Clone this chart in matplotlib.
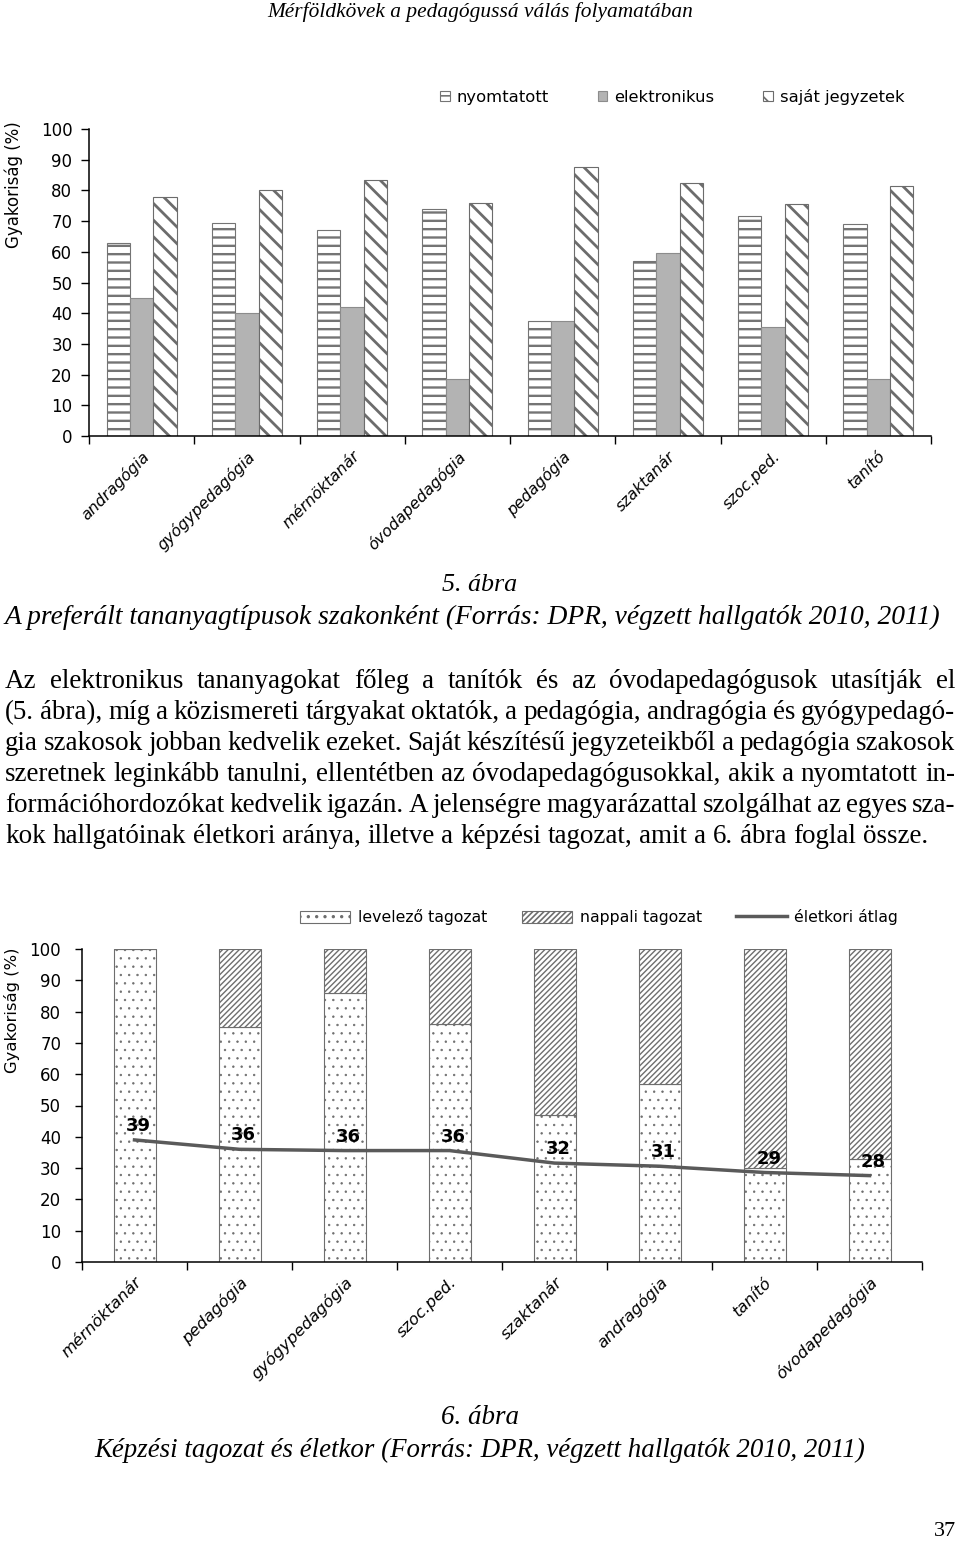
import matplotlib
matplotlib.use('Agg')
import matplotlib.pyplot as plt
import numpy as np

# data, figure 5
szakok1 = ['andragógia', 'gyógypedagógia', 'mérnöktanár', 'óvodapedagógia',
           'pedagógia', 'szaktanár', 'szoc.ped.', 'tanító']
nyomtatott = [63, 69.5, 67, 74, 37.5, 57, 71.5, 69]
elektronikus = [45, 40, 42, 18.5, 37.5, 59.5, 35.5, 18.5]
sajat = [78, 80, 83.5, 76, 87.5, 82.5, 75.5, 81.5]

# data, figure 6
szakok2 = ['mérnöktanár', 'pedagógia', 'gyógypedagógia', 'szoc.ped.',
           'szaktanár', 'andragógia', 'tanító', 'óvodapedagógia']
levelezo = [100, 75, 86, 76, 47, 57, 30, 33]
nappali = [100 - v for v in levelezo]
eletkor = [39, 36, 35.6, 35.6, 31.6, 30.6, 28.6, 27.6]

bekezdes = [
    'Az elektronikus tananyagokat főleg a tanítók és az óvodapedagógusok utasítják el',
    '(5. ábra), míg a közismereti tárgyakat oktatók, a pedagógia, andragógia és gyógypedagó-',
    'gia szakosok jobban kedvelik ezeket. Saját készítésű jegyzeteikből a pedagógia szakosok',
    'szeretnek leginkább tanulni, ellentétben az óvodapedagógusokkal, akik a nyomtatott in-',
    'formációhordozókat kedvelik igazán. A jelenségre magyarázattal szolgálhat az egyes sza-',
    'kok hallgatóinak életkori aránya, illetve a képzési tagozat, amit a 6. ábra foglal össze.',
]

W, H = 960, 1548
plt.rcParams['hatch.linewidth'] = 1.2
fig = plt.figure(figsize=(W / 100, H / 100), dpi=100)
fig.patch.set_facecolor('white')
r = fig.canvas.get_renderer()
serif = 'Liberation Serif'


def fx(px):
    return px / W


def fy(py):
    return 1 - py / H


def fit_text(x, y, s, width, **kw):
    # pick a font size so the text is `width` pixels wide
    t = fig.text(fx(x), fy(y), s, fontsize=20, **kw)
    w = t.get_window_extent(r).width
    t.set_fontsize(20 * width / w)
    return t


def hatch_lw(bars, lw):
    for p in bars:
        if hasattr(p, 'set_hatch_linewidth'):
            p.set_hatch_linewidth(lw)


def style_axis(ax, cats, lsize):
    ax.set_xlim(-0.5, len(cats) - 0.5)
    ax.set_ylim(0, 100)
    ax.set_yticks(range(0, 101, 10))
    ax.set_xticks(np.arange(-0.5, len(cats), 1))
    ax.set_xticklabels([])
    ax.set_xticks(np.arange(len(cats)), minor=True)
    ax.set_xticklabels(cats, minor=True, rotation=45, ha='right', va='top',
                       rotation_mode='anchor', style='italic', fontsize=lsize)
    ax.tick_params(axis='x', which='major', length=6, width=1)
    ax.tick_params(axis='x', which='minor', length=0, pad=9)
    ax.tick_params(axis='y', labelsize=12, width=1)
    for s in ('top', 'right'):
        ax.spines[s].set_visible(False)
    for s in ('left', 'bottom'):
        ax.spines[s].set_linewidth(1.1)


fit_text(480, 12, 'Mérföldkövek a pedagógussá válás folyamatában', 424,
         ha='center', va='center', family=serif, style='italic')

# ---- figure 5 ----
ax1 = fig.add_axes([fx(89), fy(436), (931 - 89) / W, (436 - 129) / H])
x = np.arange(len(szakok1))
bw = 0.222
b1 = ax1.bar(x - bw, nyomtatott, bw, color='white', edgecolor='#747474',
             hatch='--', lw=0.8, label='nyomtatott')
b2 = ax1.bar(x, elektronikus, bw, color='#b3b3b3', edgecolor='#8c8c8c',
             lw=0.8, label='elektronikus')
b3 = ax1.bar(x + bw, sajat, bw, color='white', edgecolor='#6c6c6c',
             hatch='\\\\', lw=0.8, label='saját jegyzetek')
hatch_lw(b1, 1.7)
hatch_lw(b3, 2.0)
style_axis(ax1, szakok1, 11.3)
ax1.tick_params(axis='y', length=6, pad=6)
fig.legend(handles=[b1, b2, b3], loc='center', ncol=3, frameon=False,
           bbox_to_anchor=(fx(672), fy(97)), fontsize=11.8, handlelength=0.6,
           handleheight=0.6, handletextpad=0.4, columnspacing=3.0)
fig.text(fx(14), fy(185), 'Gyakoriság (%)', rotation=90, ha='center',
         va='center', fontsize=12)

fit_text(480, 585, '5. ábra', 75, ha='center', va='center', family=serif,
         style='italic')
fit_text(472, 617, 'A preferált tananyagtípusok szakonként (Forrás: DPR, '
         'végzett hallgatók 2010, 2011)', 935, ha='center', va='center',
         family=serif, style='italic')

# ---- justified paragraph ----
x0, x1 = 5, 955
size = 30.0
for i, line in enumerate(bekezdes):
    probe = fig.text(0, 0, line, fontsize=17.0, family=serif)
    target = 942 if i == len(bekezdes) - 1 else 968
    size = min(size, 17.0 * target / probe.get_window_extent(r).width)
    probe.remove()
sp = fig.text(0, 0, 'a a', fontsize=size, family=serif)
sp2 = fig.text(0, 0, 'aa', fontsize=size, family=serif)
space = sp.get_window_extent(r).width - sp2.get_window_extent(r).width
sp.remove()
sp2.remove()
for i, line in enumerate(bekezdes):
    yb = 688 + 31 * i
    words = line.split()
    ts = [fig.text(0, fy(yb), w, fontsize=size, family=serif, va='baseline')
          for w in words]
    widths = [t.get_window_extent(r).width for t in ts]
    if i == len(bekezdes) - 1:
        gap = space
    else:
        gap = (x1 - x0 - sum(widths)) / (len(words) - 1)
    xp = x0
    for t, w in zip(ts, widths):
        t.set_x(fx(xp))
        xp += w + gap

# ---- figure 6 ----
ax2 = fig.add_axes([fx(82), fy(1262), (922 - 82) / W, (1262 - 949) / H])
x2 = np.arange(len(szakok2))
c1 = ax2.bar(x2, levelezo, 0.4, color='white', edgecolor='#6e6e6e',
             hatch='..', lw=0.8, label='levelező tagozat')
c2 = ax2.bar(x2, nappali, 0.4, bottom=levelezo, color='white',
             edgecolor='#6e6e6e', hatch='//////', lw=0.8,
             label='nappali tagozat')
hatch_lw(c1, 0.5)
hatch_lw(c2, 1.0)
ln, = ax2.plot(x2, eletkor, color='#5a5a5a', lw=2.5, label='életkori átlag')
for xi, v in zip(x2, eletkor):
    ax2.annotate(f'{v:.0f}', (xi, v), xytext=(3, 10), textcoords='offset points',
                 ha='center', va='center', fontweight='bold', fontsize=13)
style_axis(ax2, szakok2, 11.8)
ax2.tick_params(axis='y', length=5, pad=10)
fig.legend(handles=[c1, c2, ln], loc='center', ncol=3, frameon=False,
           bbox_to_anchor=(fx(599), fy(917)), fontsize=11.3, handlelength=3.2,
           handleheight=0.8, handletextpad=0.5, columnspacing=2.2)
fig.text(fx(12), fy(1010), 'Gyakoriság (%)', rotation=90, ha='center',
         va='center', fontsize=11.8)

fit_text(480, 1418, '6. ábra', 78, ha='center', va='center', family=serif,
         style='italic')
fit_text(480, 1450, 'Képzési tagozat és életkor (Forrás: DPR, végzett '
         'hallgatók 2010, 2011)', 770, ha='center', va='center', family=serif,
         style='italic')

fig.text(fx(945), fy(1532), '37', ha='center', va='center', family=serif,
         fontsize=16)

fig.savefig('out.png', dpi=100)
